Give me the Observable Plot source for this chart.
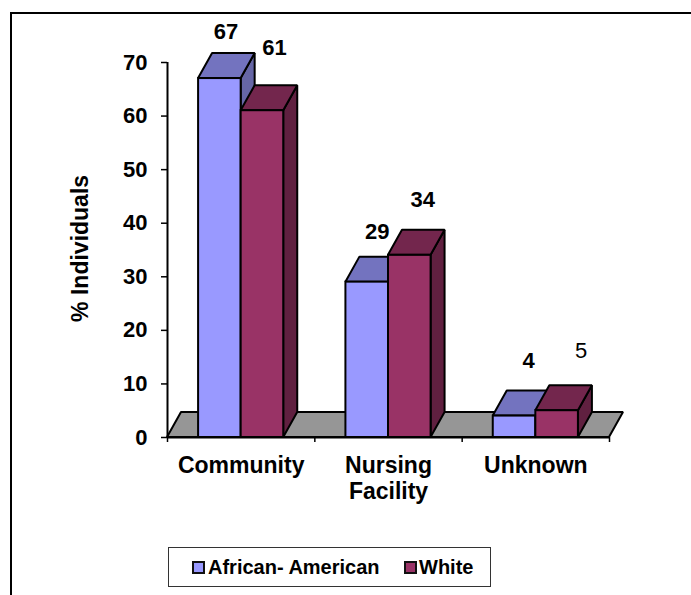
<!DOCTYPE html>
<html>
<head>
<meta charset="utf-8">
<script src="https://cdn.jsdelivr.net/npm/d3@7"></script>
<script src="https://cdn.jsdelivr.net/npm/@observablehq/plot@0.6"></script>
<style>
html,body{margin:0;padding:0;background:#fff;overflow:hidden;}
#page{position:relative;width:691px;height:595px;font-family:"Liberation Sans",Arial,sans-serif;}
#frame{position:absolute;left:10px;top:12px;right:0;bottom:0;border-left:2px solid #000;border-top:2px solid #000;}
#chart{position:absolute;left:0;top:0;}
#legend{position:absolute;left:168px;top:547px;width:321px;height:38px;border:1px solid #333;background:#fff;
 font-weight:bold;font-size:20px;color:#000;}
#legend span{position:absolute;top:7px;white-space:nowrap;line-height:24px;}
#legend i{position:absolute;top:13px;width:9px;height:9px;border:2px solid #111;}
</style>
</head>
<body>
<div id="page"><div id="frame"></div><div id="chart"></div>
<div id="legend">
 <i id="s0"></i><span id="t0"></span><i id="s1"></i><span id="t1"></span>
</div></div>
<script>
const categories = ["Community", "Nursing\nFacility", "Unknown"];
const seriesNames = ["African- American", "White"];
const africanAmerican = [67, 29, 4];
const white = [61, 34, 5];
const yTicks = [0, 10, 20, 30, 40, 50, 60, 70];

// Layout, in scale units
const barWidth = 0.289, depthX = 0.095, depthY = 4.67;
const frontColors = ["#9999FF", "#993366"];
const topColors = ["#7373BF", "#73264D"];
const sideColors = ["#6666A6", "#602040"];
const seriesValues = [africanAmerican, white];

// label nudges: x offset (px) from the bar's centre, height above value (px)
const labelOffset = [
  [[6, 47], [10, 50], [14, 55]],
  [[12, 63], [13, 55], [24, 60]]
];

const marks = [];
const ink = {stroke: "#000", strokeWidth: 2, strokeLinejoin: "miter"};

// floor
marks.push(Plot.areaX([{y: 0, a: 0, b: 3}, {y: depthY, a: depthX, b: 3 + depthX}],
  {y: "y", x1: "a", x2: "b", fill: "#969696", ...ink}));

seriesValues.forEach((vals, s) => {
  const bars = vals.map((v, c) => {
    const x1 = c + 0.5 - barWidth + s * barWidth;
    return {c, v, x1, x2: x1 + barWidth};
  });
  const side = bars.flatMap(b => [
    {c: b.c, x: b.x2, y1: 0, y2: b.v},
    {c: b.c, x: b.x2 + depthX, y1: depthY, y2: b.v + depthY}
  ]);
  const top = bars.flatMap(b => [
    {c: b.c, y: b.v, x1: b.x1, x2: b.x2},
    {c: b.c, y: b.v + depthY, x1: b.x1 + depthX, x2: b.x2 + depthX}
  ]);
  marks.push(Plot.areaY(side, {x: "x", y1: "y1", y2: "y2", z: "c", fill: sideColors[s], ...ink}));
  marks.push(Plot.areaX(top, {y: "y", x1: "x1", x2: "x2", z: "c", fill: topColors[s], ...ink}));
  marks.push(Plot.rect(bars, {x1: "x1", x2: "x2", y1: 0, y2: "v", fill: frontColors[s], ...ink}));
});

// axes
marks.push(Plot.ruleX([0], {y1: 0, y2: 70, stroke: "#000", strokeWidth: 2}));
marks.push(Plot.ruleY([0], {x1: 0, x2: 3, stroke: "#000", strokeWidth: 2}));
marks.push(Plot.axisY({ticks: yTicks, tickSize: 6, tickPadding: 14, stroke: "#000", strokeWidth: 1.5,
  fontSize: 22, fontWeight: "bold", fill: "#000",
  label: null}));
marks.push(Plot.axisX({ticks: [0, 1, 2, 3], tickFormat: () => "", tickSize: 5, stroke: "#000", strokeWidth: 1.5, label: null}));
marks.push(Plot.text(["% Individuals"], {
  text: d => d, y: 35.3, frameAnchor: "left", textAnchor: "middle", dx: -87, rotate: -90,
  fontSize: 23, fontWeight: "bold", fill: "#000"
}));

// category labels
marks.push(Plot.text(categories, {
  text: d => d, x: (d, i) => i + 0.5, y: 0, dy: 17, lineAnchor: "top", lineHeight: 1.13,
  fontSize: 23, fontWeight: "bold", fill: "#000"
}));

// value labels, each placed through the scales with its own nudge
seriesValues.forEach((vals, s) => vals.forEach((v, c) => {
  const isPlain = s === 1 && c === 2;
  const [nx, ny] = labelOffset[s][c];
  marks.push(Plot.text([v], {
    text: d => String(d),
    x: () => c + 0.5 - barWidth / 2 + s * barWidth,
    y: d => d,
    dx: nx, dy: -ny,
    fontSize: 22, fontWeight: isPlain ? "normal" : "bold", fill: "#000"
  }));
}));

const plot = Plot.plot({
  width: 691, height: 530,
  marginLeft: 167, marginRight: 82, marginTop: 62, marginBottom: 93,
  x: {type: "linear", domain: [0, 3]},
  y: {type: "linear", domain: [0, 70]},
  style: {fontFamily: '"Liberation Sans", Arial, sans-serif', background: "transparent", overflow: "visible"},
  marks
});
document.getElementById("chart").appendChild(plot);

// legend
const L = [{s: 23, t: 39}, {s: 235, t: 250}];
L.forEach((p, i) => {
  const sw = document.getElementById("s" + i), tx = document.getElementById("t" + i);
  sw.style.left = p.s + "px"; sw.style.background = frontColors[i];
  tx.style.left = p.t + "px"; tx.textContent = seriesNames[i];
});
</script>
</body>
</html>
